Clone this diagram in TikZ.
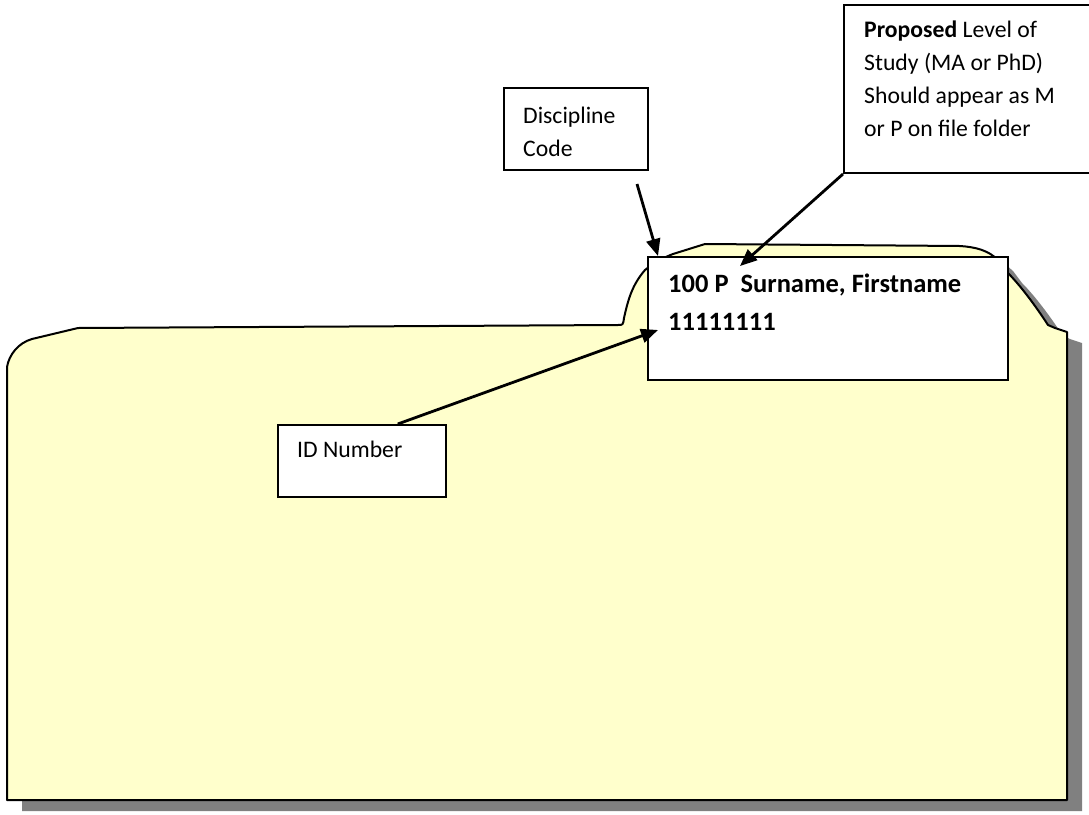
\documentclass[tikz,border=0pt]{standalone}
\usepackage{fontspec}
\setmainfont{Carlito}
\usetikzlibrary{arrows.meta}
\definecolor{folderfill}{HTML}{FFFFCC}
\definecolor{shadowgray}{HTML}{808080}
\begin{document}
\begin{tikzpicture}[x=1pt,y=-1pt,
  box/.style={draw=black, line width=2pt, fill=white, rectangle, inner sep=0pt, anchor=north west},
  lbl/.style={anchor=base west, inner sep=0pt, font=\fontsize{23.7}{32}\selectfont},
  big/.style={anchor=base west, inner sep=0pt, font=\fontsize{26.5}{38}\selectfont\bfseries},
  pointer/.style={draw=black, line width=2.8pt, -{Triangle[length=17pt,width=14pt]}},
  outline/.style={draw=black, line width=2pt, line join=round, fill=folderfill}]
\useasboundingbox (0,0) rectangle (1089,814);
\clip (0,0) rectangle (1089,814);
\def\folderpath{(7,800) -- (7,367) .. controls (9,355) and (18,343) .. (32,339) -- (78,328) -- (618,325)
  .. controls (623,325) .. (624,318) .. controls (628,300) and (632,285) .. (645,270)
  .. controls (655,262) and (665,257) .. (673,254) -- (705,244) -- (960,246)
  .. controls (975,247) and (988,250) .. (998,260) -- (1007,272)
  .. controls (1020,285) and (1035,305) .. (1048,325) -- (1055,328) -- (1067,332) -- (1067,800) -- cycle}
% shadow
\fill[shadowgray, shift={(15,11)}] \folderpath;
% folder
\path[outline] \folderpath;
% main label box
\node[box, minimum width=360pt, minimum height=123pt] (main) at (647,256) {};
\node[big] (name) at (668,292) {100 P~ Surname, Firstname};
\node[big] (idnum) at (668,330) {11111111};
% callout boxes
\node[box, minimum width=144pt, minimum height=82pt] (disc) at (503,87) {};
\node[lbl] (disc1) at (523,123) {Discipline};
\node[lbl] (disc2) at (523,156) {Code};
\node[box, minimum width=270pt, minimum height=168pt] (prop) at (843,4) {};
\node[lbl] (prop1) at (864,37) {\textbf{Proposed} Level of};
\node[lbl] (prop2) at (864,70) {Study (MA or PhD)};
\node[lbl] (prop3) at (864,103) {Should appear as M};
\node[lbl] (prop4) at (864,136) {or P on file folder};
\node[box, minimum width=168pt, minimum height=72pt] (idbox) at (277,424) {};
\node[lbl] (idlbl) at (297,457) {ID Number};
% arrows
\coordinate (discstart) at (637,184);
\coordinate (disctip) at (658,256);
\coordinate (proptip) at (740,266);
\coordinate (idtip) at (658,330);
\draw[pointer] (discstart) -- (disctip);
\draw[pointer] (prop.south west) -- (proptip);
\draw[pointer] (idbox.46.6) -- (idtip);
\end{tikzpicture}
\end{document}
